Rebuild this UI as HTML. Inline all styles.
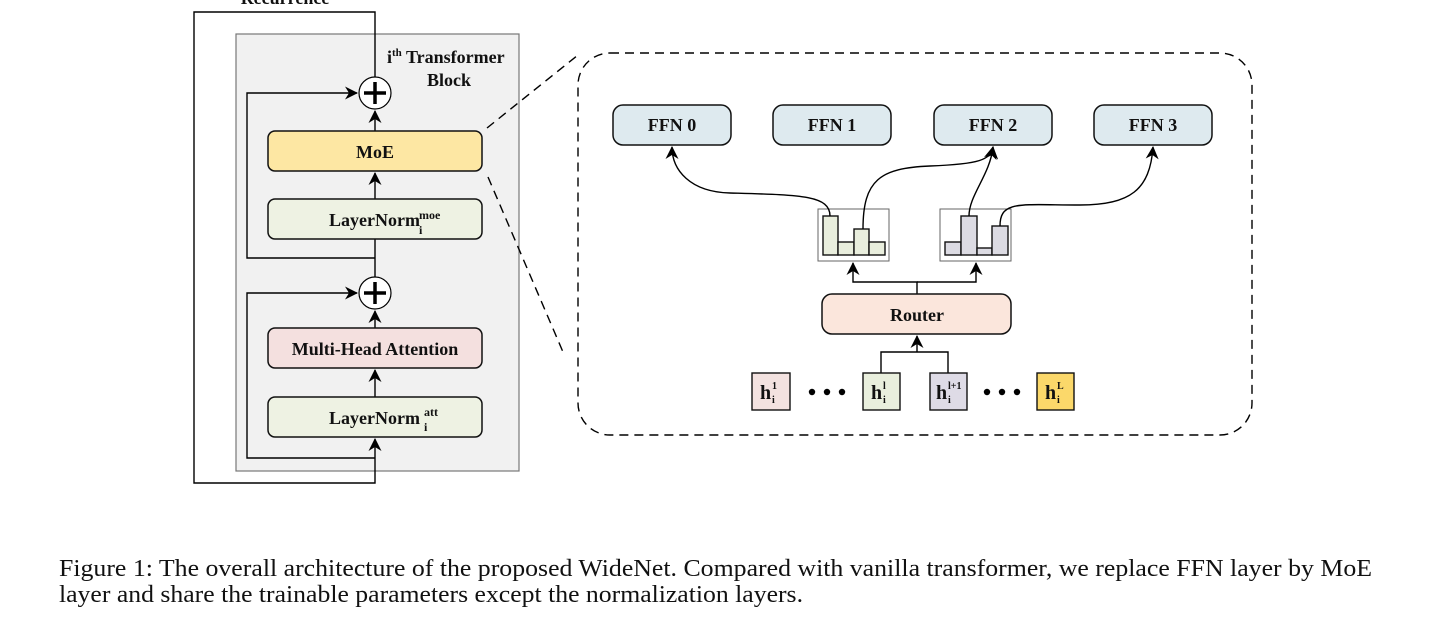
<!DOCTYPE html>
<html><head><meta charset="utf-8"><style>
html,body{margin:0;padding:0;background:#fff;width:1440px;height:634px;overflow:hidden}
svg{display:block}
text{font-family:"Liberation Serif",serif;fill:#111}
</style></head><body>
<svg width="1440" height="634" viewBox="0 0 1440 634" xmlns="http://www.w3.org/2000/svg">
<defs>
<marker id="a" markerWidth="13" markerHeight="13" refX="12" refY="6.5" orient="auto" markerUnits="userSpaceOnUse">
<path d="M0,0 L13,6.5 L0,13 L4,6.5 Z" fill="#000"/></marker>
</defs>
<rect x="236" y="34" width="283" height="437" fill="#f1f1f1" stroke="#777" stroke-width="1.2"/>
<text x="285" y="4" text-anchor="middle" style="font-size:18px;font-weight:bold">Recurrence</text>
<polyline points="375,77 375,12 194,12 194,483 375,483 375,439" fill="none" stroke="#000" stroke-width="1.4" marker-end="url(#a)"/>
<text x="387" y="63" style="font-size:18px;font-weight:bold">i<tspan style="font-size:11px" dy="-7">th</tspan><tspan dy="7"> Transformer</tspan></text>
<text x="471" y="86" text-anchor="end" style="font-size:18px;font-weight:bold">Block</text>
<polyline points="375,258 247,258 247,93 357,93" fill="none" stroke="#000" stroke-width="1.4" marker-end="url(#a)"/>
<polyline points="375,458 247,458 247,293 357,293" fill="none" stroke="#000" stroke-width="1.4" marker-end="url(#a)"/>
<line x1="375" y1="199" x2="375" y2="173" stroke="#000" stroke-width="1.4" marker-end="url(#a)"/>
<line x1="375" y1="131" x2="375" y2="111" stroke="#000" stroke-width="1.4" marker-end="url(#a)"/>
<line x1="375" y1="397" x2="375" y2="370" stroke="#000" stroke-width="1.4" marker-end="url(#a)"/>
<line x1="375" y1="328" x2="375" y2="311" stroke="#000" stroke-width="1.4" marker-end="url(#a)"/>
<line x1="375" y1="239" x2="375" y2="277" stroke="#000" stroke-width="1.4"/>
<g stroke="#000" fill="#fff"><circle cx="375" cy="93" r="16" stroke-width="1.2"/><circle cx="375" cy="293" r="16" stroke-width="1.2"/></g>
<g stroke="#000" stroke-width="3.5"><line x1="364" y1="93" x2="386" y2="93"/><line x1="375" y1="82" x2="375" y2="104"/><line x1="364" y1="293" x2="386" y2="293"/><line x1="375" y1="282" x2="375" y2="304"/></g>
<rect x="268" y="131" width="214" height="40" rx="7" fill="#fde7a3" stroke="#111" stroke-width="1.5"/>
<text x="375" y="158" text-anchor="middle" style="font-size:18px;font-weight:bold">MoE</text>
<rect x="268" y="199" width="214" height="40" rx="7" fill="#eef2e3" stroke="#111" stroke-width="1.5"/>
<text x="329" y="226" style="font-size:18px;font-weight:bold">LayerNorm</text>
<text x="419" y="219" style="font-size:12px;font-weight:bold">moe</text>
<text x="419" y="234" style="font-size:12px;font-weight:bold">i</text>
<rect x="268" y="328" width="214" height="40" rx="7" fill="#f4e0df" stroke="#111" stroke-width="1.5"/>
<text x="375" y="355" text-anchor="middle" style="font-size:18px;font-weight:bold">Multi-Head Attention</text>
<rect x="268" y="397" width="214" height="40" rx="7" fill="#eef2e3" stroke="#111" stroke-width="1.5"/>
<text x="329" y="424" style="font-size:18px;font-weight:bold">LayerNorm</text>
<text x="424" y="416" style="font-size:12px;font-weight:bold">att</text>
<text x="424" y="431" style="font-size:12px;font-weight:bold">i</text>
<g stroke="#000" stroke-width="1.4" stroke-dasharray="9,6" fill="none">
<line x1="487" y1="128" x2="578" y2="55"/>
<line x1="488" y1="177" x2="563" y2="352"/>
<rect x="578" y="53" width="674" height="382" rx="32"/>
</g>
<g stroke="#111" stroke-width="1.5" fill="#deeaef">
<rect x="613" y="105" width="118" height="40" rx="10"/>
<rect x="773" y="105" width="118" height="40" rx="10"/>
<rect x="934" y="105" width="118" height="40" rx="10"/>
<rect x="1094" y="105" width="118" height="40" rx="10"/>
</g>
<g text-anchor="middle" style="font-size:18px;font-weight:bold"><text x="672" y="131">FFN 0</text><text x="832" y="131">FFN 1</text><text x="993" y="131">FFN 2</text><text x="1153" y="131">FFN 3</text></g>
<rect x="818" y="209" width="71" height="52" fill="#fff" stroke="#666" stroke-width="1"/>
<rect x="940" y="209" width="71" height="52" fill="#fff" stroke="#666" stroke-width="1"/>
<g stroke="#111" stroke-width="1.4">
<rect x="823" y="216" width="15" height="39" fill="#e9eedd"/>
<rect x="838" y="242" width="16" height="13" fill="#e9eedd"/>
<rect x="854" y="229" width="15" height="26" fill="#e9eedd"/>
<rect x="869" y="242" width="16" height="13" fill="#e9eedd"/>
<rect x="945" y="242" width="16" height="13" fill="#dcdbe3"/>
<rect x="961" y="216" width="16" height="39" fill="#dcdbe3"/>
<rect x="977" y="248" width="15" height="7" fill="#dcdbe3"/>
<rect x="992" y="226" width="16" height="29" fill="#dcdbe3"/>
</g>
<g fill="none" stroke="#000" stroke-width="1.4">
<path d="M830,216 C830,195 800,195 730,193 C690,192 672,170 672,147" marker-end="url(#a)"/>
<path d="M863,229 C863,180 880,168 930,166 C980,164 990,160 993,147" marker-end="url(#a)"/>
<path d="M969,216 C969,195 990,175 993,147" marker-end="url(#a)"/>
<path d="M1000,226 C1000,200 1020,205 1080,205 C1130,205 1150,190 1153,147" marker-end="url(#a)"/>
<polyline points="917,294 917,282 853,282 853,263" marker-end="url(#a)"/>
<polyline points="917,282 976,282 976,263" marker-end="url(#a)"/>
<polyline points="881,373 881,352 948,352 948,373"/>
<line x1="917" y1="352" x2="917" y2="336" marker-end="url(#a)"/>
</g>
<rect x="822" y="294" width="189" height="40" rx="10" fill="#fbe6dc" stroke="#111" stroke-width="1.5"/>
<text x="917" y="321" text-anchor="middle" style="font-size:18px;font-weight:bold">Router</text>
<g stroke="#111" stroke-width="1.4">
<rect x="752" y="373" width="38" height="37" fill="#f3e2e0"/>
<rect x="863" y="373" width="37" height="37" fill="#e9efdd"/>
<rect x="930" y="373" width="37" height="37" fill="#dedbe6"/>
<rect x="1037" y="373" width="37" height="37" fill="#fbd86a"/>
</g>
<g style="font-weight:bold">
<text x="760" y="399" style="font-size:20px">h</text><text x="772" y="389" style="font-size:10px">1</text><text x="772" y="403" style="font-size:10px">i</text>
<text x="871" y="399" style="font-size:20px">h</text><text x="883" y="389" style="font-size:10px">l</text><text x="883" y="403" style="font-size:10px">i</text>
<text x="936" y="399" style="font-size:20px">h</text><text x="948" y="389" style="font-size:10px">l+1</text><text x="948" y="403" style="font-size:10px">i</text>
<text x="1045" y="399" style="font-size:20px">h</text><text x="1057" y="389" style="font-size:10px">L</text><text x="1057" y="403" style="font-size:10px">i</text>
</g>
<g fill="#000"><circle cx="812" cy="392" r="3.2"/><circle cx="827" cy="392" r="3.2"/><circle cx="842" cy="392" r="3.2"/>
<circle cx="987" cy="392" r="3.2"/><circle cx="1002" cy="392" r="3.2"/><circle cx="1017" cy="392" r="3.2"/></g>
<text x="59" y="576" style="font-size:24px" textLength="1313" lengthAdjust="spacingAndGlyphs">Figure 1: The overall architecture of the proposed WideNet. Compared with vanilla transformer, we replace FFN layer by MoE</text>
<text x="59" y="602" style="font-size:24px" textLength="744" lengthAdjust="spacingAndGlyphs">layer and share the trainable parameters except the normalization layers.</text>
</svg>
</body></html>
